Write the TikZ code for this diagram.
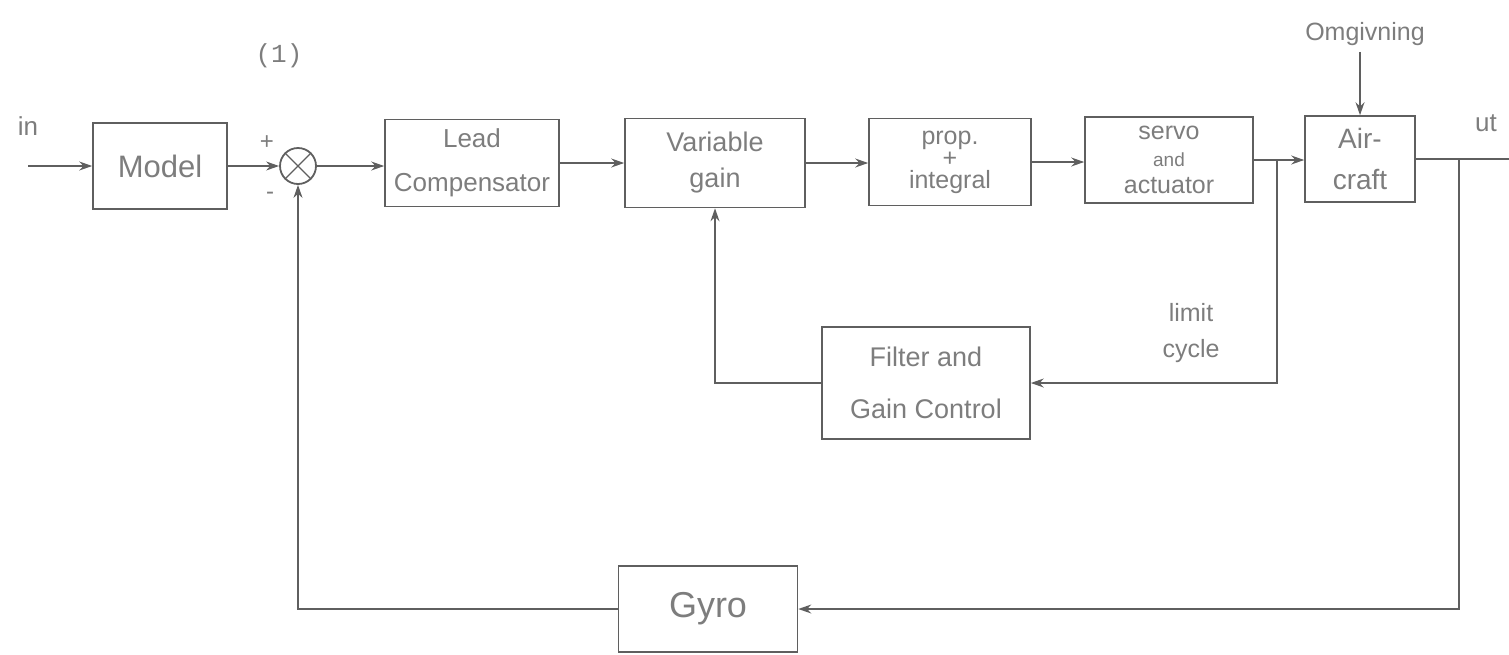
\documentclass[tikz,border=0pt]{standalone}
\usepackage{fontspec}
\setmainfont{Liberation Sans}
\newfontfamily\typew{Liberation Mono}
\usetikzlibrary{arrows.meta}
\definecolor{ink}{RGB}{95,95,95}
\definecolor{txt}{RGB}{125,125,125}
\tikzset{
  blk/.style={draw=ink, line width=1.6pt, rectangle, inner sep=0pt, text=txt, align=center},
  wire/.style={draw=ink, line width=1.4pt},
  arr/.style={wire, -{Stealth[length=13pt,width=9pt]}},
  lbl/.style={text=txt, align=center, inner sep=0pt},
}
\begin{document}
\begin{tikzpicture}[x=1pt,y=-1pt]
\useasboundingbox (0,0) rectangle (1509,654);
% blocks
\node[blk, minimum width=134pt, minimum height=86pt, font=\fontsize{31}{36}\selectfont] (model) at (160,166) {Model};
\node[draw=ink, line width=1.8pt, circle, minimum size=36pt, inner sep=0pt] (sum) at (298,166) {};
\draw[wire] (sum.north west) -- (sum.south east);
\draw[wire] (sum.north east) -- (sum.south west);
\node[blk, minimum width=174pt, minimum height=87pt, font=\fontsize{26}{44}\selectfont] (lead) at (472,163) {Lead\\Compensator};
\node[blk, minimum width=180pt, minimum height=89pt, font=\fontsize{27}{36}\selectfont] (var) at (715,163) {Variable\\gain};
\node[blk, minimum width=162pt, minimum height=87pt, font=\fontsize{25}{22}\selectfont] (prop) at (950,162) {prop.\\+\\integral};
\node[blk, minimum width=168pt, minimum height=86pt, font=\fontsize{25}{27}\selectfont] (servo) at (1169,160) {servo\\{\fontsize{19}{27}\selectfont and}\\actuator};
\node[blk, minimum width=110pt, minimum height=86pt, font=\fontsize{28}{41}\selectfont] (air) at (1360,159) {Air-\\craft};
\node[blk, minimum width=208pt, minimum height=112pt, font=\fontsize{27}{52}\selectfont] (filter) at (926,383) {Filter and\\Gain Control};
\node[blk, minimum width=179pt, minimum height=86pt, font=\fontsize{36}{40}\selectfont] (gyro) at (708,609) {Gyro};
% labels
\node[lbl, font=\typew\fontsize{26}{30}\selectfont] (one) at (279,56) {(1)};
\node[lbl, font=\fontsize{26}{28}\selectfont] (in) at (28,126) {in};
\node[lbl, font=\fontsize{26}{28}\selectfont] (ut) at (1486,123) {ut};
\node[lbl, font=\fontsize{25}{28}\selectfont] (omg) at (1365,34) {Omgivning};
\node[lbl, font=\fontsize{25}{36}\selectfont] (lim) at (1191,333) {limit\\cycle};
\node[lbl, font=\fontsize{24}{28}\selectfont] (plus) at (267,143) {+};
\node[lbl, font=\fontsize{24}{28}\selectfont] (minus) at (270,196) {-};
% coordinates
\coordinate (inp) at (28,166);
\coordinate (outend) at (1509,159);
\coordinate (tap) at (1459,159);
\coordinate (br) at (1277,160);
% main path
\draw[arr] (inp) -- (model.west);
\draw[arr] (model.east) -- (sum.west);
\draw[arr] (sum.east) -- (sum.east -| lead.west);
\draw[arr] (lead.east) -- (lead.east -| var.west);
\draw[arr] (var.east) -- (var.east -| prop.west);
\draw[arr] (prop.east) -- (prop.east -| servo.west);
\draw[arr] (servo.east) -- (servo.east -| air.west);
\draw[wire] (air.east) -- (outend);
\draw[arr] (omg.south -| air.north) ++(0,6) -- (air.north);
% limit cycle loop
\draw[arr] (br) |- (filter.east);
\draw[arr] (filter.west) -| (var.south);
% gyro feedback
\draw[arr] (tap) |- (gyro.east);
\draw[arr] (gyro.west) -| (sum.south);
\end{tikzpicture}
\end{document}
